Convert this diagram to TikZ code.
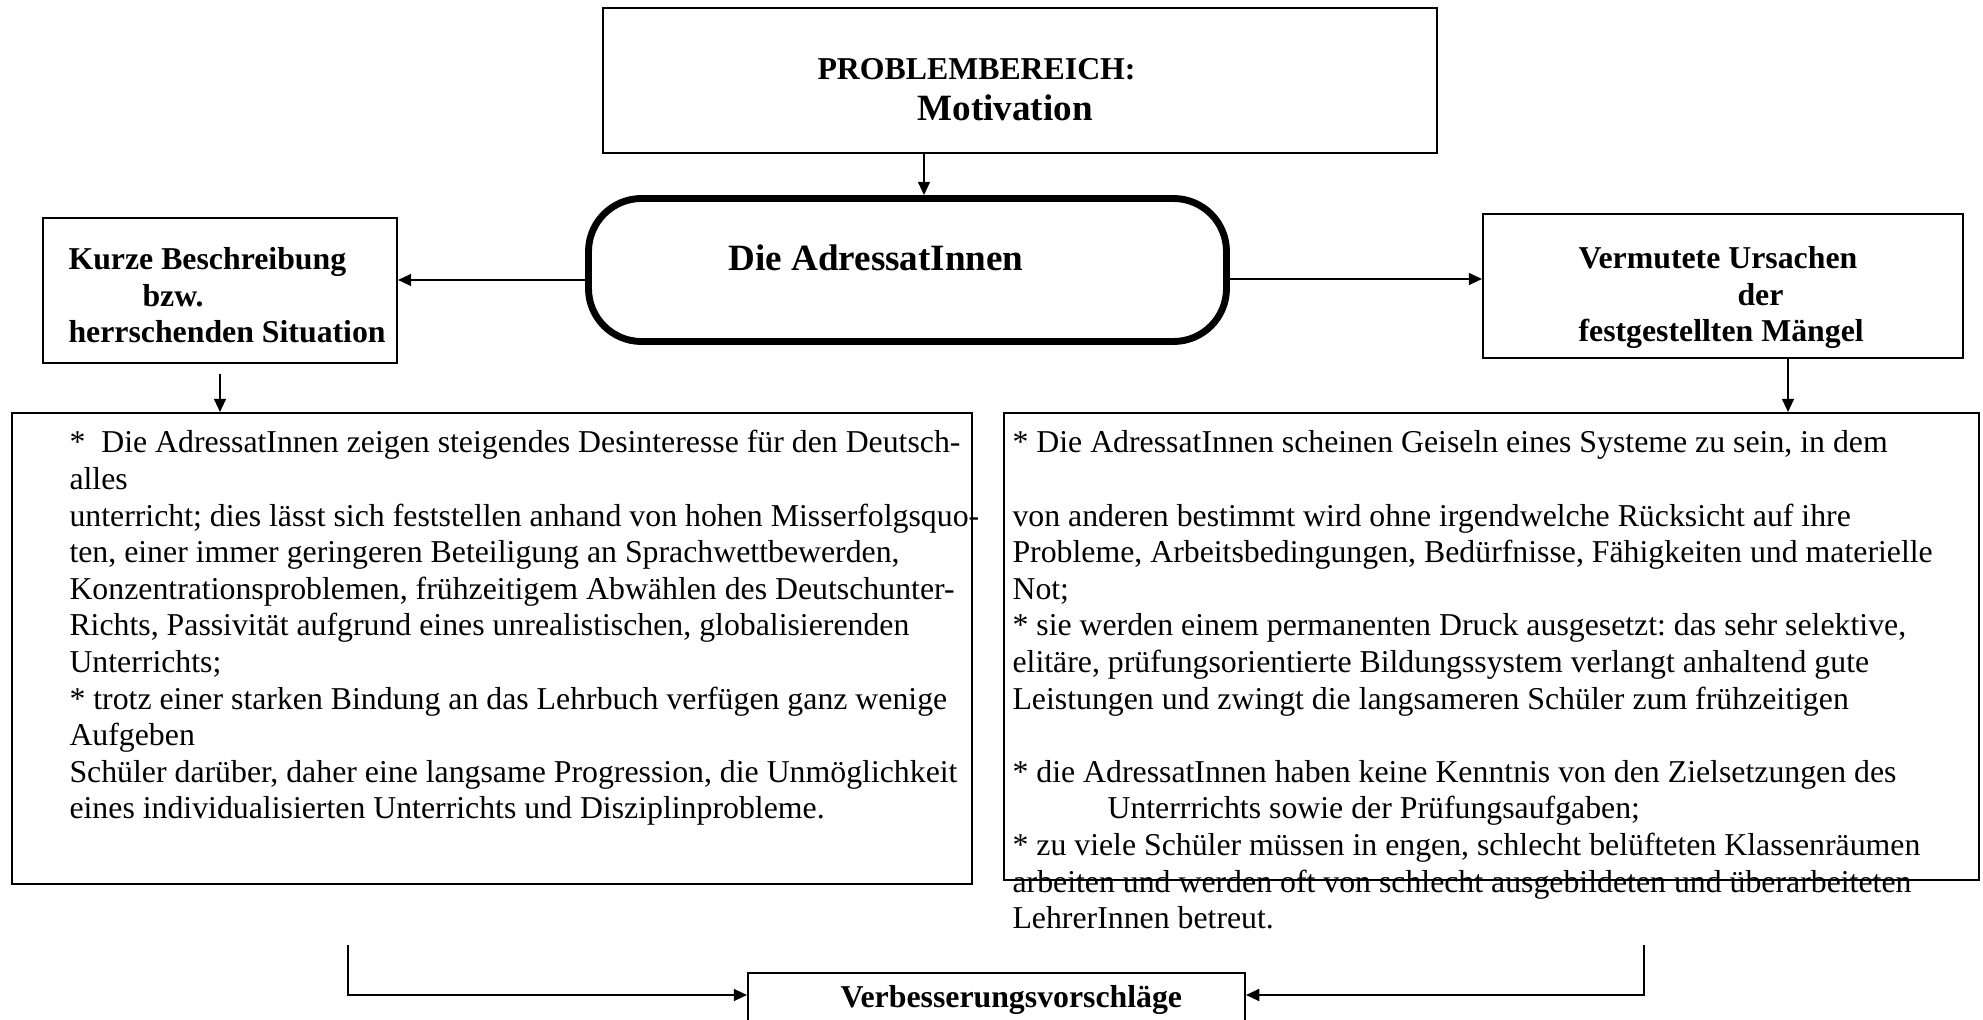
\documentclass[tikz,border=0pt]{standalone}
\usepackage{fontspec}
\setmainfont{Liberation Serif}
\usetikzlibrary{arrows.meta}
% one drawing unit = one pixel of a 1983 x 1020 sheet (2.65 px per pt)
\newcommand{\pxu}{0.37736pt}
\begin{document}
\begin{tikzpicture}[x=0.37736pt, y=-0.37736pt,
  box/.style={draw, line width=0.75pt, rectangle, inner sep=0pt},
  pillbox/.style={draw, line width=2.6pt, rectangle, rounded corners=20pt, inner sep=0pt},
  conn/.style={line width=0.75pt, -{Triangle[length=5pt,width=4.5pt]}},
  body/.style={anchor=base west, inner sep=0pt, font=\fontsize{12}{13.8}\selectfont\frenchspacing},
  head/.style={anchor=base west, inner sep=0pt, font=\fontsize{12}{13.8}\selectfont\bfseries\frenchspacing},
  bighead/.style={anchor=base west, inner sep=0pt, font=\fontsize{14}{16}\selectfont\bfseries\frenchspacing}]

\useasboundingbox (0,0) rectangle (1983,1020);
\fill[white] (0,0) rectangle (1983,1020);
\clip (0,0) rectangle (1983,1020);

% ---- boxes ----
\node[box, minimum width=834*\pxu, minimum height=145*\pxu] (top) at (1020,80.5) {};
\node[pillbox, minimum width=638*\pxu, minimum height=143*\pxu] (pill) at (907.5,270) {};
\node[box, minimum width=354*\pxu, minimum height=145*\pxu] (lsit) at (220,290.5) {};
\node[box, minimum width=480*\pxu, minimum height=144*\pxu] (ursa) at (1723,286) {};
\node[box, minimum width=960*\pxu, minimum height=471*\pxu] (lbig) at (492,648.5) {};
\node[box, minimum width=975*\pxu, minimum height=467*\pxu] (rbig) at (1491.5,646.5) {};
\node[box, minimum width=497*\pxu, minimum height=100*\pxu] (vorschl) at (996.5,1023) {};

% ---- headings ----
\node[head] (tPB) at (817,80) {PROBLEMBEREICH:};
\node[bighead] (tMot) at (917,121) {Motivation};
\node[bighead] (tAdr) at (728,271) {Die AdressatInnen};
\node[head] (tK1) at (68,270) {Kurze Beschreibung};
\node[head] (tK2) at (142,306.5) {bzw.};
\node[head] (tK3) at (68,343) {herrschenden Situation};
\node[head] (tV1) at (1578,269) {Vermutete Ursachen};
\node[head] (tV2) at (1737,305.5) {der};
\node[head] (tV3) at (1578,342) {festgestellten Mängel};
\node[head] (tVb) at (840,1007) {Verbesserungsvorschläge};

% ---- description (left) ----
\foreach \t [count=\i from 0] in {
  {*~~Die AdressatInnen zeigen steigendes Desinteresse für den Deutsch-},
  {alles},
  {unterricht; dies lässt sich feststellen anhand von hohen Misserfolgsquo-},
  {ten, einer immer geringeren Beteiligung an Sprachwettbewerden,},
  {Konzentrationsproblemen, frühzeitigem Abwählen des Deutschunter-},
  {Richts, Passivität aufgrund eines unrealistischen, globalisierenden},
  {Unterrichts;},
  {* trotz einer starken Bindung an das Lehrbuch verfügen ganz wenige},
  {Aufgeben},
  {Schüler darüber, daher eine langsame Progression, die Unmöglichkeit},
  {eines individualisierten Unterrichts und Disziplinprobleme.}}
  \node[body] (L\i) at (69,453+36.6*\i) {\t};

% ---- causes (right) ----
\foreach \t [count=\i from 0] in {
  {* Die AdressatInnen scheinen Geiseln eines Systeme zu sein, in dem},
  {},
  {von anderen bestimmt wird ohne irgendwelche Rücksicht auf ihre},
  {Probleme, Arbeitsbedingungen, Bedürfnisse, Fähigkeiten und materielle},
  {Not;},
  {* sie werden einem permanenten Druck ausgesetzt: das sehr selektive,},
  {elitäre, prüfungsorientierte Bildungssystem verlangt anhaltend gute},
  {Leistungen und zwingt die langsameren Schüler zum frühzeitigen},
  {},
  {* die AdressatInnen haben keine Kenntnis von den Zielsetzungen des},
  {},
  {* zu viele Schüler müssen in engen, schlecht belüfteten Klassenräumen},
  {arbeiten und werden oft von schlecht ausgebildeten und überarbeiteten},
  {LehrerInnen betreut.}}
  \node[body] (R\i) at (1012,453+36.6*\i) {\t};
\node[body] (R10b) at (1107,819) {Unterrrichts sowie der Prüfungsaufgaben;};

% ---- connectors ----
\coordinate (a1) at ([xshift=-96*\pxu]top.south);
\draw[conn] (a1) -- (a1 |- pill.north);
\coordinate (a2) at ([yshift=-10*\pxu]pill.west);
\draw[conn] (a2) -- (a2 -| lsit.east);
\coordinate (a3) at ([yshift=-9*\pxu]pill.east);
\draw[conn] (a3) -- (a3 -| ursa.west);
\coordinate (a4) at ([yshift=-10*\pxu]lsit.south);
\draw[conn] (a4) -- (a4 |- lbig.north);
\coordinate (a5) at ([xshift=65*\pxu]ursa.south);
\draw[conn] (a5) -- (a5 |- rbig.north);
\coordinate (b1) at (348,945);
\coordinate (b1e) at ([yshift=28*\pxu]vorschl.west);
\draw[conn] (b1) |- (b1e);
\coordinate (b2) at (1644,945);
\coordinate (b2e) at ([yshift=28*\pxu]vorschl.east);
\draw[conn] (b2) |- (b2e);
\end{tikzpicture}
\end{document}
